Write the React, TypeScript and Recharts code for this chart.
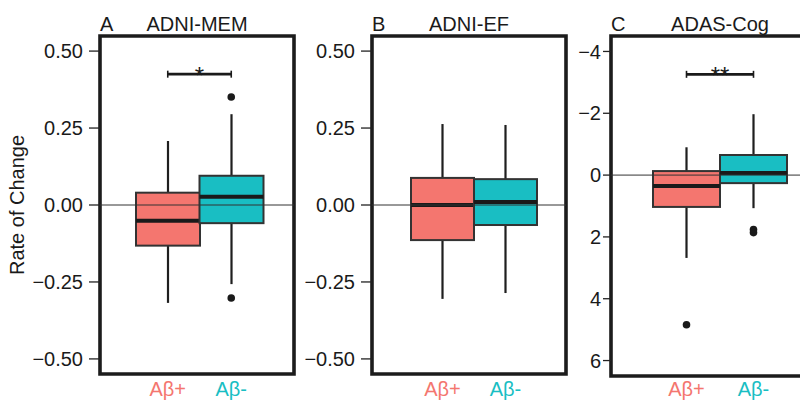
import React from "react";
import { ComposedChart, Bar, Scatter, XAxis, YAxis, ReferenceLine, ReferenceArea } from "recharts";

const FONT = "'Liberation Sans', Arial, sans-serif";

const groups = ["Aβ+", "Aβ-"];
const groupColors = ["#F4766F", "#19BEC3"];

// [lower whisker, q1, median, q3, upper whisker] per group
const memStats = [
  [-0.318, -0.132, -0.051, 0.04, 0.208],
  [-0.257, -0.059, 0.027, 0.095, 0.295],
];
const memOutliers = [[], [0.351, -0.302]];
const memTicks = [-0.5, -0.25, 0, 0.25, 0.5];

const efStats = [
  [-0.305, -0.114, 0.0, 0.088, 0.263],
  [-0.286, -0.065, 0.01, 0.084, 0.26],
];
const efOutliers = [[], []];

const cogStats = [
  [-0.9, -0.13, 0.35, 1.03, 2.68],
  [-1.97, -0.65, -0.07, 0.26, 1.07],
];
const cogOutliers = [[4.84], [1.76, 1.86]];
const cogTicks = [-4, -2, 0, 2, 4, 6];

const fmt2 = (v: number) => (v < 0 ? "\u2212" : "") + Math.abs(v).toFixed(2);
const fmt0 = (v: number) => (v < 0 ? "\u2212" : "") + Math.abs(v).toString();

const BoxShape = (props: any) => {
  const { x, y, width, height, payload } = props;
  const { wlo, q1, med, q3, whi, color } = payload;
  const py = (v: number) => y + ((whi - v) / (whi - wlo)) * height;
  const cx = x + width / 2;
  const top = Math.min(py(q1), py(q3));
  return (
    <g>
      <line x1={cx} x2={cx} y1={py(whi)} y2={py(q3)} stroke="#1f1f1f" strokeWidth={2.2} />
      <line x1={cx} x2={cx} y1={py(q1)} y2={py(wlo)} stroke="#1f1f1f" strokeWidth={2.2} />
      <rect x={x} y={top} width={width} height={Math.abs(py(q1) - py(q3))} fill={color} stroke="#333" strokeWidth={2} />
      <line x1={x} x2={x + width} y1={py(med)} y2={py(med)} stroke="#1a1a1a" strokeWidth={4} />
    </g>
  );
};

const Dot = (p: any) => <circle cx={p.cx} cy={p.cy} r={3.8} fill="#1a1a1a" />;

const Bracket = (p: any) => {
  const { x1, y1, x2, stars } = p;
  return (
    <g>
      <line x1={x1} x2={x2} y1={y1} y2={y1} stroke="#1a1a1a" strokeWidth={2.8} />
      <line x1={x1} x2={x1} y1={y1 - 3.5} y2={y1 + 3.5} stroke="#1a1a1a" strokeWidth={1.6} />
      <line x1={x2} x2={x2} y1={y1 - 3.5} y2={y1 + 3.5} stroke="#1a1a1a" strokeWidth={1.6} />
      <text x={(x1 + x2) / 2} y={y1 + 10} textAnchor="middle" fontSize={24} fontFamily={FONT} fill="#1a1a1a">
        {stars}
      </text>
    </g>
  );
};

const PanelTitle = (p: any) => {
  const { viewBox, letter, title } = p;
  const { x, y, width } = viewBox;
  return (
    <g>
      <text x={x} y={y - 5} fontSize={20} fontFamily={FONT} fill="#1a1a1a">{letter}</text>
      <text x={x + width / 2} y={y - 5} textAnchor="middle" fontSize={20} fontFamily={FONT} fill="#1a1a1a">{title}</text>
    </g>
  );
};

const YTitle = (p: any) => {
  const { viewBox } = p;
  const cx = viewBox.x + 17;
  const cy = viewBox.y + viewBox.height / 2;
  return (
    <text x={cx} y={cy} transform={`rotate(-90, ${cx}, ${cy})`} textAnchor="middle" dominantBaseline="central" fontSize={20} fontFamily={FONT} fill="#1a1a1a">
      Rate of Change
    </text>
  );
};

const GroupTick = (p: any) => {
  const { x, y, payload, offset } = p;
  const i = groups.indexOf(payload.value);
  return (
    <text x={x} y={y + offset} textAnchor="middle" fontSize={20} fontFamily={FONT} fill={groupColors[i]}>
      {payload.value}
    </text>
  );
};

interface PanelProps {
  left: number;
  yWidth: number;
  plotWidth: number;
  plotHeight: number;
  padLeft: number;
  padRight: number;
  domain: [number, number];
  reversed?: boolean;
  ticks: number[];
  fmt: (v: number) => string;
  stats: number[][];
  outliers: number[][];
  sig?: number;
  stars?: string;
  letter: string;
  title: string;
  yLabel?: boolean;
  tickSize: number;
  tickMargin: number;
}

function Panel(props: PanelProps) {
  const { left, yWidth, plotWidth, plotHeight, padLeft, padRight, domain, reversed, ticks, fmt, stats, outliers, sig, stars, letter, title, yLabel, tickSize, tickMargin } = props;
  const data = groups.map((g, i) => ({
    name: g,
    wlo: stats[i][0],
    q1: stats[i][1],
    med: stats[i][2],
    q3: stats[i][3],
    whi: stats[i][4],
    color: groupColors[i],
  }));
  const outlierData = groups.flatMap((g, i) => outliers[i].map((v) => ({ name: g, v })));
  const width = yWidth + plotWidth + 6;
  const height = 401;
  const top = 36;
  const labelOffset = 396 - (top + plotHeight);
  return (
    <div style={{ position: "absolute", left, top: 0 }}>
      <ComposedChart width={width} height={height} data={data} margin={{ top, right: 6, left: 0, bottom: 0 }} barCategoryGap={0}>
        <XAxis
          dataKey="name"
          type="category"
          allowDuplicatedCategory={false}
          padding={{ left: padLeft, right: padRight }}
          height={height - top - plotHeight}
          tickLine={false}
          axisLine={false}
          tickSize={0}
          tickMargin={0}
          tick={<GroupTick offset={labelOffset} />}
        />
        <XAxis xAxisId="frame" type="number" domain={[0, 1]} hide />
        <YAxis
          type="number"
          domain={domain}
          allowDataOverflow
          reversed={reversed}
          ticks={ticks}
          tickFormatter={fmt}
          width={yWidth}
          axisLine={false}
          tickSize={tickSize}
          tickMargin={tickMargin}
          tickLine={{ stroke: "#222", strokeWidth: 1.3 }}
          tick={{ fill: "#1a1a1a", fontSize: 20, fontFamily: FONT }}
          label={yLabel ? <YTitle /> : undefined}
        />
        <ReferenceLine y={0} stroke="#333" strokeWidth={1} />
        <Bar dataKey={(d: any) => [d.wlo, d.whi]} shape={BoxShape} isAnimationActive={false} />
        <Scatter data={outlierData} dataKey="v" shape={Dot} isAnimationActive={false} />
        {sig !== undefined && (
          <ReferenceLine
            segment={[{ x: groups[0], y: sig }, { x: groups[1], y: sig }]}
            shape={(p: any) => <Bracket {...p} stars={stars} />}
          />
        )}
        <ReferenceArea
          xAxisId="frame"
          x1={0}
          x2={1}
          y1={domain[0]}
          y2={domain[1]}
          fill="none"
          fillOpacity={0}
          stroke="#1c1c1c"
          strokeWidth={3.6}
          label={<PanelTitle letter={letter} title={title} />}
        />
      </ComposedChart>
    </div>
  );
}

export default function App() {
  return (
    <div style={{ position: "absolute", left: 0, top: 0, width: 800, height: 401, overflow: "hidden", background: "#fff" }}>
      <Panel
        left={0}
        yWidth={100}
        plotWidth={194}
        plotHeight={338}
        padLeft={36}
        padRight={31}
        domain={[-0.549, 0.549]}
        ticks={memTicks}
        fmt={fmt2}
        stats={memStats}
        outliers={memOutliers}
        sig={0.425}
        stars="*"
        letter="A"
        title="ADNI-MEM"
        yLabel
        tickSize={11}
        tickMargin={6}
      />
      <Panel
        left={302}
        yWidth={70}
        plotWidth={194}
        plotHeight={338}
        padLeft={39}
        padRight={29}
        domain={[-0.549, 0.549]}
        ticks={memTicks}
        fmt={fmt2}
        stats={efStats}
        outliers={efOutliers}
        letter="B"
        title="ADNI-EF"
        tickSize={11}
        tickMargin={6}
      />
      <Panel
        left={561}
        yWidth={50}
        plotWidth={218}
        plotHeight={340}
        padLeft={42}
        padRight={42}
        domain={[-4.5, 6.5]}
        reversed
        ticks={cogTicks}
        fmt={fmt0}
        stats={cogStats}
        outliers={cogOutliers}
        sig={-3.26}
        stars="**"
        letter="C"
        title="ADAS-Cog"
        tickSize={8}
        tickMargin={2}
      />
    </div>
  );
}
